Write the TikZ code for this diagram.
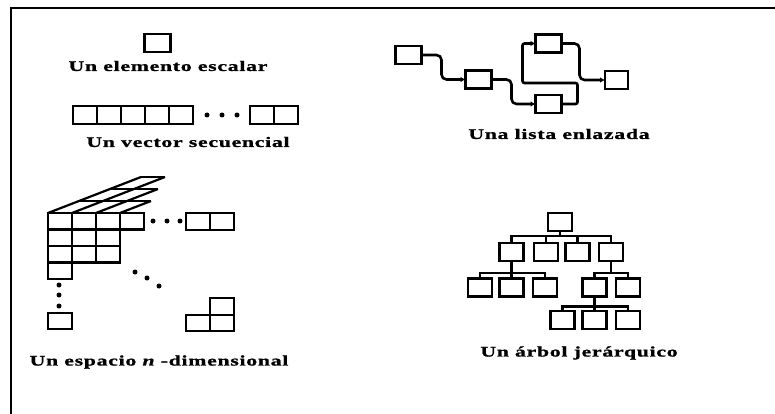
\documentclass[tikz,border=0pt]{standalone}
\usepackage{fontspec}
\setmainfont{Liberation Serif}
\newfontfamily\rotulo{Liberation Serif}[FakeStretch=1.5,LetterSpace=5,FakeBold=1.2]
\usetikzlibrary{arrows.meta,positioning}

\def\cellW{24}
\def\cellH{16.5}
\def\slantX{31}
\def\slantY{-12}

\tikzset{
    celda/.style={draw, line width=2.2pt, inner sep=0pt, outer sep=0pt,
        minimum width=\cellW pt, minimum height=\cellH pt},
    caja/.style={celda, minimum width=26pt, minimum height=18pt},
    hoja/.style={celda, minimum height=18pt},
    punto/.style={circle, fill, inner sep=0pt, minimum size=5pt},
    titulo/.style={font=\rotulo\bfseries\fontsize{14.5}{16}\selectfont, inner sep=0pt},
    enlace/.style={line width=2.6pt, rounded corners=5pt,
        -{Latex[length=5pt,width=5.5pt]}},
    rama/.style={line width=2.2pt},
}

\begin{document}
\begin{tikzpicture}[x=1pt, y=-1pt]
    \useasboundingbox (0,0) rectangle (775,414);
    \draw [line width=2.4pt] (11,414) -- (11,8) -- (775,8);

    %% escalar
    \node [caja] (esc) at (157.5,43) {};
    \node [titulo] (escT) at (168,66) {Un elemento escalar};

    %% vector
    \foreach \i in {0,...,4}
        \node [celda, minimum height=18pt] (v\i) at (85+24*\i,115) {};
    \foreach \x in {207,222,237}
        \node [punto] at (\x,115) {};
    \node [celda, minimum height=18pt] (vn1) at (262,115) {};
    \node [celda, minimum height=18pt] (vn2) at (286,115) {};
    \node [titulo] (vecT) at (188,142) {Un vector secuencial};

    %% espacio n-dimensional: cara frontal en escalera
    \foreach \r/\n in {0/4,1/3,2/3,3/1} {
        \foreach \c in {1,...,\n}
            \node [celda] at (36+24*\c, 221.25+16.5*\r) {};
    }
    %% cara superior, capas hacia el fondo
    \foreach \k in {1,2,3}
        \draw [line width=2.2pt]
        (48+\slantX*\k, 213+\slantY*\k) -- ++(24*4-24*\k, 0);
    \foreach \j/\d in {0/3,1/3,2/2,3/1}
        \draw [line width=2.2pt]
        (48+24*\j, 213) -- ++(\slantX*\d, \slantY*\d);
    \foreach \x in {153,167,180}
        \node [punto] at (\x,221) {};
    \node [celda] (f1) at (198,221.5) {};
    \node [celda] (f2) at (222,221.5) {};
    \foreach \y in {285,295,306}
        \node [punto] at (59,\y) {};
    \node [celda] (c1) at (60,321) {};
    \foreach \x/\y in {135/272,147/278,159/286}
        \node [punto] at (\x,\y) {};
    \node [celda] (u1) at (222,306.5) {};
    \node [celda] (u2) at (198,323) {};
    \node [celda] (u3) at (222,323) {};
    \node [titulo] (espT) at (159,362) {Un espacio {\itshape n} -dimensional};

    %% lista enlazada
    \node [caja] (la) at (408.5,55) {};
    \node [caja] (lb) at (478.5,79.5) {};
    \node [caja] (lc) at (548.5,43.5) {};
    \node [caja] (ld) at (548.5,104) {};
    \node [caja, minimum width=23pt] (le) at (616.5,80) {};
    \draw [enlace] (la.east) -- ++(20,0) |- (lb.west);
    \draw [enlace] (lb.east) -- ++(20,0) |- (ld.west);
    \draw [enlace, rounded corners=2pt]
    (ld.east) -| ++(16,-21) -| ([xshift=-13pt]lc.west) -- (lc.west);
    \draw [enlace] (lc.east) -- ++(18,0) |- (le.west);
    \node [titulo] (lisT) at (559,134) {Una lista enlazada};

    %% arbol jerarquico
    \node [hoja] (r) at (560,222) {};
    \foreach \n/\x in {a1/511.5,a2/546,a3/577.5,a4/611}
        \node [hoja] (\n) at (\x,252) {};
    \foreach \n/\x in {b1/480,b2/511.5,b3/545,b4/594.5,b5/628}
        \node [hoja] (\n) at (\x,287.5) {};
    \foreach \n/\x in {c1/562.5,c2/594.5,c3/628}
        \node [hoja] (\n) at (\x,320) {};
    \foreach \p/\h/\c in {r/5/a1,r/5/a2,r/5/a3,r/5/a4,
                          a1/12/b1,a1/12/b2,a1/12/b3,
                          a4/12/b4,a4/12/b5,
                          b4/10/c1,b4/10/c2,b4/10/c3}
        \draw [rama] (\p.south) -- ++(0,\h) -| (\c.north);
    \node [titulo] (arbT) at (579,353) {Un árbol jerárquico};
\end{tikzpicture}
\end{document}
